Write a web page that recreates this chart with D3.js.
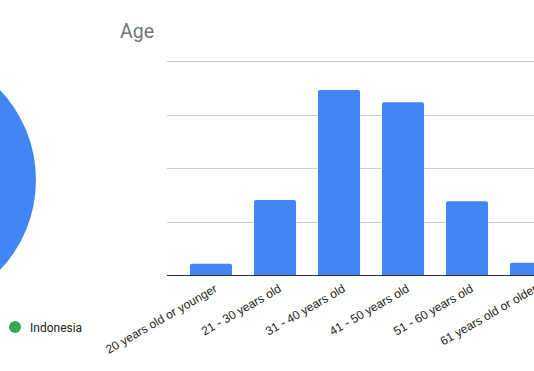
<!DOCTYPE html>
<html>
<head>
<meta charset="utf-8">
<script src="https://cdn.jsdelivr.net/npm/d3@7/dist/d3.min.js"></script>
<style>
  html, body { margin: 0; padding: 0; background: #fff; }
  svg { display: block; }
</style>
</head>
<body>
<svg id="chart" width="534" height="371"></svg>
<script>
// age groups and values
const ageGroups = [
  "20 years old or younger",
  "21 - 30 years old",
  "31 - 40 years old",
  "41 - 50 years old",
  "51 - 60 years old",
  "61 years old or older"
];
const ageValues = [2.1, 14, 34.6, 32.3, 13.8, 2.3];
const yTicks = [0, 10, 20, 30, 40];

// the pie on the left is cut off; only one slice and one legend entry show
const pieLabels = ["Indonesia"];
const pieValues = [1];
const pieColors = ["#4285f4"];
const legendLabels = ["Indonesia"];
const legendColors = ["#34a853"];

const svg = d3.select("#chart");

// ---- pie (left, mostly off-canvas)
const pie = d3.pie().sort(null)(pieValues);
const arc = d3.arc().innerRadius(0).outerRadius(130.5);
svg.append("g")
  .attr("transform", "translate(-94.5,180)")
  .selectAll("path")
  .data(pie)
  .join("path")
  .attr("d", arc)
  .attr("fill", (d, i) => pieColors[i]);

const legend = svg.append("g")
  .selectAll("g")
  .data(legendLabels)
  .join("g")
  .attr("transform", (d, i) => `translate(15,${327 + i * 20})`);
legend.append("circle")
  .attr("r", 6)
  .attr("fill", (d, i) => legendColors[i]);
legend.append("text")
  .attr("x", 15)
  .attr("y", 4.5)
  .attr("font-family", "Roboto, sans-serif")
  .attr("font-size", 12)
  .attr("fill", "#222")
  .text((d) => d);

// ---- bar chart
svg.append("text")
  .attr("x", 120)
  .attr("y", 38)
  .attr("font-family", "Roboto, sans-serif")
  .attr("font-size", 19.5)
  .attr("fill", "#757575")
  .text("Age");

const x = d3.scaleBand()
  .domain(ageGroups)
  .range([179, 563])
  .paddingInner(0.34375)
  .paddingOuter(0.171875);

const y = d3.scaleLinear()
  .domain([0, 40])
  .range([275, 61]);

svg.append("g")
  .selectAll("line")
  .data(yTicks.slice(1))
  .join("line")
  .attr("x1", 167)
  .attr("x2", 534)
  .attr("y1", (d) => Math.round(y(d)) + 0.5)
  .attr("y2", (d) => Math.round(y(d)) + 0.5)
  .attr("stroke", "#cccccc")
  .attr("stroke-width", 1);

svg.append("g")
  .selectAll("path")
  .data(ageValues)
  .join("path")
  .attr("fill", "#4285f4")
  .attr("d", (d, i) => {
    const x0 = x(ageGroups[i]);
    const w = x.bandwidth();
    const y0 = y(d);
    const y1 = y(0);
    const r = 2;
    return `M${x0},${y1}V${y0 + r}Q${x0},${y0} ${x0 + r},${y0}` +
      `H${x0 + w - r}Q${x0 + w},${y0} ${x0 + w},${y0 + r}V${y1}Z`;
  });

svg.append("line")
  .attr("x1", 167)
  .attr("x2", 534)
  .attr("y1", 275.5)
  .attr("y2", 275.5)
  .attr("stroke", "#333333")
  .attr("stroke-width", 1);

svg.append("g")
  .selectAll("text")
  .data(ageGroups)
  .join("text")
  .attr("transform", (d) => `translate(${x(d) + x.bandwidth() / 2 + 7},291) rotate(-30)`)
  .attr("text-anchor", "end")
  .attr("font-family", "Liberation Sans, Arial, sans-serif")
  .attr("font-size", 12)
  .attr("fill", "#222")
  .text((d) => d);
</script>
</body>
</html>
